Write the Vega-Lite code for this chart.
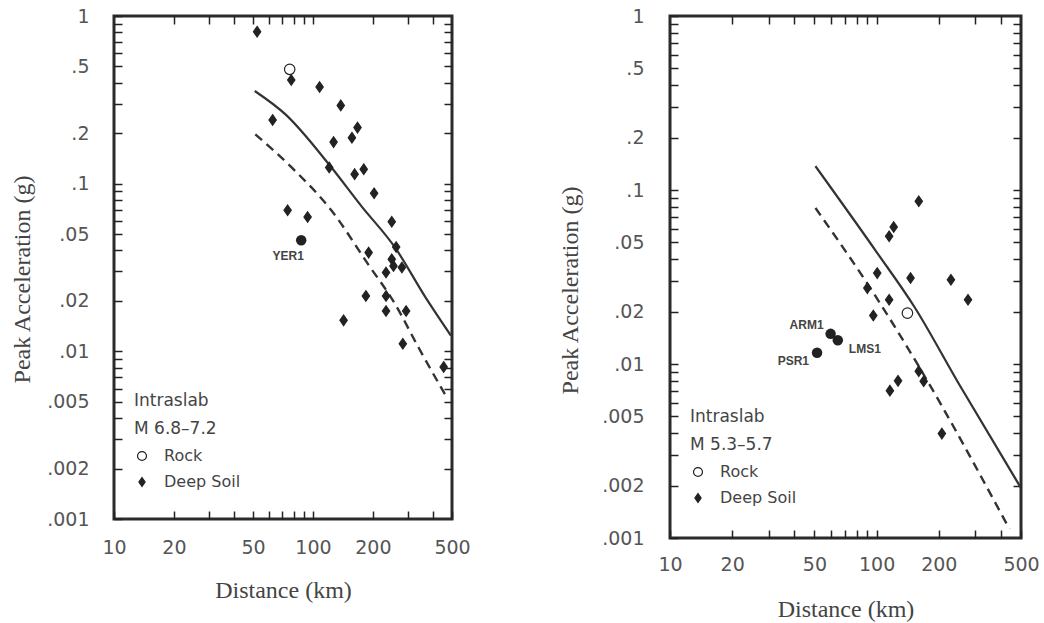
{
  "$schema": "https://vega.github.io/schema/vega-lite/v6.json",
  "background": "white",
  "padding": {"left": 8, "top": 5, "right": 0, "bottom": 0},
  "resolve": {"scale": {"shape": "independent", "fill": "independent", "stroke": "independent"}, "legend": {"shape": "independent", "fill": "independent", "stroke": "independent"}},
  "config": {
    "view": {"stroke": "#2b2b2b", "strokeWidth": 3},
    "concat": {"spacing": 84},
    "axis": {
      "domain": false, "grid": false,
      "labelFont": "DejaVu Sans", "labelFontSize": 19, "labelColor": "#555",
      "titleFont": "Liberation Serif", "titleFontSize": 24, "titleFontWeight": "normal", "titleColor": "#444",
      "tickColor": "#222", "tickWidth": 1.5
    },
    "legend": {
      "titleFont": "DejaVu Sans", "titleFontSize": 17, "titleFontWeight": "normal", "titleColor": "#444",
      "titleLineHeight": 28, "titlePadding": 10, "titleLimit": 300,
      "labelFont": "DejaVu Sans", "labelFontSize": 16, "labelColor": "#444",
      "symbolSize": 80, "symbolStrokeWidth": 1.2, "symbolOffset": 0,
      "rowPadding": 10, "labelOffset": 14, "padding": 0
    }
  },
  "datasets": {
    "left_pts": [
      {"d": 52.4, "pga": 0.806, "type": "Deep Soil"},
      {"d": 77.8, "pga": 0.415, "type": "Deep Soil"},
      {"d": 108, "pga": 0.377, "type": "Deep Soil"},
      {"d": 138, "pga": 0.293, "type": "Deep Soil"},
      {"d": 62.7, "pga": 0.24, "type": "Deep Soil"},
      {"d": 167.5, "pga": 0.216, "type": "Deep Soil"},
      {"d": 157, "pga": 0.188, "type": "Deep Soil"},
      {"d": 127, "pga": 0.177, "type": "Deep Soil"},
      {"d": 120.7, "pga": 0.125, "type": "Deep Soil"},
      {"d": 180, "pga": 0.122, "type": "Deep Soil"},
      {"d": 162, "pga": 0.114, "type": "Deep Soil"},
      {"d": 203, "pga": 0.0877, "type": "Deep Soil"},
      {"d": 74.6, "pga": 0.0694, "type": "Deep Soil"},
      {"d": 94, "pga": 0.0633, "type": "Deep Soil"},
      {"d": 249, "pga": 0.0593, "type": "Deep Soil"},
      {"d": 262, "pga": 0.0419, "type": "Deep Soil"},
      {"d": 190.5, "pga": 0.0388, "type": "Deep Soil"},
      {"d": 249, "pga": 0.0354, "type": "Deep Soil"},
      {"d": 254, "pga": 0.0323, "type": "Deep Soil"},
      {"d": 280, "pga": 0.0316, "type": "Deep Soil"},
      {"d": 233, "pga": 0.0295, "type": "Deep Soil"},
      {"d": 184.5, "pga": 0.0214, "type": "Deep Soil"},
      {"d": 233, "pga": 0.0214, "type": "Deep Soil"},
      {"d": 233, "pga": 0.0174, "type": "Deep Soil"},
      {"d": 294, "pga": 0.0174, "type": "Deep Soil"},
      {"d": 142.6, "pga": 0.0153, "type": "Deep Soil"},
      {"d": 283, "pga": 0.0111, "type": "Deep Soil"},
      {"d": 454, "pga": 0.00807, "type": "Deep Soil"},
      {"d": 76.4, "pga": 0.481, "type": "Rock"}
    ],
    "left_stations": [
      {"d": 87.3, "pga": 0.046, "label": "YER1"}
    ],
    "left_curves": [
      {"d": 51, "pga": 0.357, "curve": "solid"},
      {"d": 73, "pga": 0.258, "curve": "solid"},
      {"d": 120, "pga": 0.131, "curve": "solid"},
      {"d": 176, "pga": 0.073, "curve": "solid"},
      {"d": 259, "pga": 0.0415, "curve": "solid"},
      {"d": 366, "pga": 0.0212, "curve": "solid"},
      {"d": 494, "pga": 0.0124, "curve": "solid"},
      {"d": 51.3, "pga": 0.197, "curve": "dashed"},
      {"d": 81.5, "pga": 0.119, "curve": "dashed"},
      {"d": 124.5, "pga": 0.0687, "curve": "dashed"},
      {"d": 187, "pga": 0.0338, "curve": "dashed"},
      {"d": 259, "pga": 0.0191, "curve": "dashed"},
      {"d": 340, "pga": 0.0105, "curve": "dashed"},
      {"d": 471, "pga": 0.0053, "curve": "dashed"}
    ],
    "right_pts": [
      {"d": 160, "pga": 0.0861, "type": "Deep Soil"},
      {"d": 121, "pga": 0.0613, "type": "Deep Soil"},
      {"d": 115, "pga": 0.0542, "type": "Deep Soil"},
      {"d": 100.7, "pga": 0.0333, "type": "Deep Soil"},
      {"d": 146, "pga": 0.0312, "type": "Deep Soil"},
      {"d": 229, "pga": 0.0305, "type": "Deep Soil"},
      {"d": 277, "pga": 0.0234, "type": "Deep Soil"},
      {"d": 90.2, "pga": 0.0273, "type": "Deep Soil"},
      {"d": 115, "pga": 0.0234, "type": "Deep Soil"},
      {"d": 96.4, "pga": 0.019, "type": "Deep Soil"},
      {"d": 160, "pga": 0.0091, "type": "Deep Soil"},
      {"d": 169, "pga": 0.00796, "type": "Deep Soil"},
      {"d": 127, "pga": 0.008, "type": "Deep Soil"},
      {"d": 116, "pga": 0.00703, "type": "Deep Soil"},
      {"d": 207, "pga": 0.00398, "type": "Deep Soil"},
      {"d": 141, "pga": 0.0196, "type": "Rock"}
    ],
    "right_stations": [
      {"d": 59.9, "pga": 0.0149, "label": "ARM1"},
      {"d": 64.9, "pga": 0.0137, "label": "LMS1"},
      {"d": 51.5, "pga": 0.0116, "label": "PSR1"}
    ],
    "right_curves": [
      {"d": 50.6, "pga": 0.137, "curve": "solid"},
      {"d": 100, "pga": 0.044, "curve": "solid"},
      {"d": 152, "pga": 0.0214, "curve": "solid"},
      {"d": 250, "pga": 0.0077, "curve": "solid"},
      {"d": 497, "pga": 0.00196, "curve": "solid"},
      {"d": 50.6, "pga": 0.0788, "curve": "dashed"},
      {"d": 100, "pga": 0.024, "curve": "dashed"},
      {"d": 160, "pga": 0.0097, "curve": "dashed"},
      {"d": 439, "pga": 0.00113, "curve": "dashed"}
    ]
  },
  "hconcat": [
    {
      "width": 338,
      "height": 503,
      "resolve": {"scale": {"x": "independent", "y": "independent"}, "axis": {"x": "independent", "y": "independent"}},
      "layer": [
        {
          "data": {"name": "left_curves"},
          "transform": [{"filter": "datum.curve == 'solid'"}],
          "mark": {"type": "line", "interpolate": "monotone", "strokeWidth": 2.2, "color": "#333"},
          "encoding": {
            "x": {"field": "d", "type": "quantitative", "scale": {"type": "log", "domain": [10, 500], "nice": false},
              "axis": {"orient": "bottom", "values": [10, 20, 30, 40, 50, 60, 70, 80, 90, 100, 200, 300, 400, 500], "labelExpr": "indexof([10, 20, 50, 100, 200, 500], datum.value) >= 0 ? format(datum.value, 'd') : ''", "ticks": true, "tickSize": 8, "offset": -8, "labelPadding": 19, "labelFlush": false, "labelOverlap": false, "title": "Distance (km)", "titleY": 86, "titleBaseline": "alphabetic"}},
            "y": {"field": "pga", "type": "quantitative", "scale": {"type": "log", "domain": [0.001, 1], "nice": false},
              "axis": {"orient": "left", "values": [0.001, 0.002, 0.003, 0.004, 0.005, 0.006, 0.007, 0.008, 0.009, 0.01, 0.02, 0.03, 0.04, 0.05, 0.06, 0.07, 0.08, 0.09, 0.1, 0.2, 0.3, 0.4, 0.5, 0.6, 0.7, 0.8, 0.9, 1], "labelExpr": "indexof([0.001, 0.002, 0.005, 0.01, 0.02, 0.05, 0.1, 0.2, 0.5, 1], datum.value) >= 0 ? (datum.value >= 1 ? '1' : substring(format(datum.value, '~g'), 1)) : ''", "ticks": true, "tickSize": 8, "offset": -8, "labelPadding": 25, "labelOverlap": false, "labelFlush": false, "title": "Peak Acceleration (g)", "titleX": -100, "titleY": 263, "titleBaseline": "middle", "titleAngle": -90}}
          }
        },
        {
          "data": {"name": "left_curves"},
          "transform": [{"filter": "datum.curve == 'dashed'"}],
          "mark": {"type": "line", "interpolate": "monotone", "strokeWidth": 2.4, "strokeDash": [9, 6], "color": "#333"},
          "encoding": {
            "x": {"field": "d", "type": "quantitative", "scale": {"type": "log", "domain": [10, 500], "nice": false},
              "axis": {"orient": "top", "values": [20, 30, 40, 50, 60, 70, 80, 90, 100, 200, 300, 400], "labels": false, "title": null, "ticks": true, "tickSize": 8, "offset": -8}},
            "y": {"field": "pga", "type": "quantitative", "scale": {"type": "log", "domain": [0.001, 1], "nice": false},
              "axis": {"orient": "right", "values": [0.002, 0.003, 0.004, 0.005, 0.006, 0.007, 0.008, 0.009, 0.01, 0.02, 0.03, 0.04, 0.05, 0.06, 0.07, 0.08, 0.09, 0.1, 0.2, 0.3, 0.4, 0.5, 0.6, 0.7, 0.8, 0.9], "labels": false, "title": null, "ticks": true, "tickSize": 8, "offset": -8}}
          }
        },
        {
          "data": {"name": "left_pts"},
          "mark": {"type": "point", "filled": true, "strokeWidth": 1.2, "size": 110, "opacity": 1},
          "encoding": {
            "x": {"field": "d", "type": "quantitative", "scale": {"type": "log", "domain": [10, 500], "nice": false}, "axis": null},
            "y": {"field": "pga", "type": "quantitative", "scale": {"type": "log", "domain": [0.001, 1], "nice": false}, "axis": null},
            "shape": {"field": "type", "type": "nominal", "scale": {"domain": ["Rock", "Deep Soil"], "range": ["circle", "M0,-1L0.7,0L0,1L-0.7,0Z"]},
              "legend": {"title": ["Intraslab", "M 6.8–7.2"], "orient": "none", "legendX": 20, "legendY": 377}},
            "fill": {"field": "type", "type": "nominal", "scale": {"domain": ["Rock", "Deep Soil"], "range": ["white", "#222"]},
              "legend": {"title": ["Intraslab", "M 6.8–7.2"], "orient": "none", "legendX": 20, "legendY": 377}},
            "stroke": {"field": "type", "type": "nominal", "scale": {"domain": ["Rock", "Deep Soil"], "range": ["#222", "#222"]},
              "legend": {"title": ["Intraslab", "M 6.8–7.2"], "orient": "none", "legendX": 20, "legendY": 377}}
          }
        },
        {
          "data": {"name": "left_stations"},
          "mark": {"type": "point", "shape": "circle", "filled": true, "color": "#222", "size": 110, "opacity": 1},
          "encoding": {
            "x": {"field": "d", "type": "quantitative", "scale": {"type": "log", "domain": [10, 500], "nice": false}, "axis": null},
            "y": {"field": "pga", "type": "quantitative", "scale": {"type": "log", "domain": [0.001, 1], "nice": false}, "axis": null}
          }
        },
        {
          "data": {"name": "left_stations"},
          "mark": {"type": "text", "font": "Liberation Sans", "fontWeight": "bold", "fontSize": 12, "color": "#444", "dx": -13, "dy": 16, "align": "center", "baseline": "middle"},
          "encoding": {
            "x": {"field": "d", "type": "quantitative", "scale": {"type": "log", "domain": [10, 500], "nice": false}, "axis": null},
            "y": {"field": "pga", "type": "quantitative", "scale": {"type": "log", "domain": [0.001, 1], "nice": false}, "axis": null},
            "text": {"field": "label"}
          }
        }
      ]
    },
    {
      "width": 351,
      "height": 522,
      "resolve": {"scale": {"x": "independent", "y": "independent"}, "axis": {"x": "independent", "y": "independent"}},
      "layer": [
        {
          "data": {"name": "right_curves"},
          "transform": [{"filter": "datum.curve == 'solid'"}],
          "mark": {"type": "line", "interpolate": "monotone", "strokeWidth": 2.2, "color": "#333"},
          "encoding": {
            "x": {"field": "d", "type": "quantitative", "scale": {"type": "log", "domain": [10, 500], "nice": false},
              "axis": {"orient": "bottom", "values": [10, 20, 30, 40, 50, 60, 70, 80, 90, 100, 200, 300, 400, 500], "labelExpr": "indexof([10, 20, 50, 100, 200, 500], datum.value) >= 0 ? format(datum.value, 'd') : ''", "ticks": true, "tickSize": 8, "offset": -8, "labelPadding": 17, "labelFlush": false, "labelOverlap": false, "title": "Distance (km)", "titleY": 86, "titleBaseline": "alphabetic"}},
            "y": {"field": "pga", "type": "quantitative", "scale": {"type": "log", "domain": [0.001, 1], "nice": false},
              "axis": {"orient": "left", "values": [0.001, 0.002, 0.003, 0.004, 0.005, 0.006, 0.007, 0.008, 0.009, 0.01, 0.02, 0.03, 0.04, 0.05, 0.06, 0.07, 0.08, 0.09, 0.1, 0.2, 0.3, 0.4, 0.5, 0.6, 0.7, 0.8, 0.9, 1], "labelExpr": "indexof([0.001, 0.002, 0.005, 0.01, 0.02, 0.05, 0.1, 0.2, 0.5, 1], datum.value) >= 0 ? (datum.value >= 1 ? '1' : substring(format(datum.value, '~g'), 1)) : ''", "ticks": true, "tickSize": 8, "offset": -8, "labelPadding": 26, "labelOverlap": false, "labelFlush": false, "title": "Peak Acceleration (g)", "titleX": -108, "titleY": 274, "titleBaseline": "middle", "titleAngle": -90}}
          }
        },
        {
          "data": {"name": "right_curves"},
          "transform": [{"filter": "datum.curve == 'dashed'"}],
          "mark": {"type": "line", "interpolate": "monotone", "strokeWidth": 2.4, "strokeDash": [9, 6], "color": "#333"},
          "encoding": {
            "x": {"field": "d", "type": "quantitative", "scale": {"type": "log", "domain": [10, 500], "nice": false},
              "axis": {"orient": "top", "values": [20, 30, 40, 50, 60, 70, 80, 90, 100, 200, 300, 400], "labels": false, "title": null, "ticks": true, "tickSize": 8, "offset": -8}},
            "y": {"field": "pga", "type": "quantitative", "scale": {"type": "log", "domain": [0.001, 1], "nice": false},
              "axis": {"orient": "right", "values": [0.002, 0.003, 0.004, 0.005, 0.006, 0.007, 0.008, 0.009, 0.01, 0.02, 0.03, 0.04, 0.05, 0.06, 0.07, 0.08, 0.09, 0.1, 0.2, 0.3, 0.4, 0.5, 0.6, 0.7, 0.8, 0.9], "labels": false, "title": null, "ticks": true, "tickSize": 8, "offset": -8}}
          }
        },
        {
          "data": {"name": "right_pts"},
          "mark": {"type": "point", "filled": true, "strokeWidth": 1.2, "size": 110, "opacity": 1},
          "encoding": {
            "x": {"field": "d", "type": "quantitative", "scale": {"type": "log", "domain": [10, 500], "nice": false}, "axis": null},
            "y": {"field": "pga", "type": "quantitative", "scale": {"type": "log", "domain": [0.001, 1], "nice": false}, "axis": null},
            "shape": {"field": "type", "type": "nominal", "scale": {"domain": ["Rock", "Deep Soil"], "range": ["circle", "M0,-1L0.7,0L0,1L-0.7,0Z"]},
              "legend": {"title": ["Intraslab", "M 5.3–5.7"], "orient": "none", "legendX": 20, "legendY": 393}},
            "fill": {"field": "type", "type": "nominal", "scale": {"domain": ["Rock", "Deep Soil"], "range": ["white", "#222"]},
              "legend": {"title": ["Intraslab", "M 5.3–5.7"], "orient": "none", "legendX": 20, "legendY": 393}},
            "stroke": {"field": "type", "type": "nominal", "scale": {"domain": ["Rock", "Deep Soil"], "range": ["#222", "#222"]},
              "legend": {"title": ["Intraslab", "M 5.3–5.7"], "orient": "none", "legendX": 20, "legendY": 393}}
          }
        },
        {
          "data": {"name": "right_stations"},
          "mark": {"type": "point", "shape": "circle", "filled": true, "color": "#222", "size": 110, "opacity": 1},
          "encoding": {
            "x": {"field": "d", "type": "quantitative", "scale": {"type": "log", "domain": [10, 500], "nice": false}, "axis": null},
            "y": {"field": "pga", "type": "quantitative", "scale": {"type": "log", "domain": [0.001, 1], "nice": false}, "axis": null}
          }
        },
        {
          "data": {"name": "right_stations"},
          "transform": [{"filter": "datum.label == 'ARM1'"}],
          "mark": {"type": "text", "font": "Liberation Sans", "fontWeight": "bold", "fontSize": 12, "color": "#444", "dx": -7, "dy": -9, "align": "right", "baseline": "middle"},
          "encoding": {
            "x": {"field": "d", "type": "quantitative", "scale": {"type": "log", "domain": [10, 500], "nice": false}, "axis": null},
            "y": {"field": "pga", "type": "quantitative", "scale": {"type": "log", "domain": [0.001, 1], "nice": false}, "axis": null},
            "text": {"field": "label"}
          }
        },
        {
          "data": {"name": "right_stations"},
          "transform": [{"filter": "datum.label == 'LMS1'"}],
          "mark": {"type": "text", "font": "Liberation Sans", "fontWeight": "bold", "fontSize": 12, "color": "#444", "dx": 11, "dy": 9, "align": "left", "baseline": "middle"},
          "encoding": {
            "x": {"field": "d", "type": "quantitative", "scale": {"type": "log", "domain": [10, 500], "nice": false}, "axis": null},
            "y": {"field": "pga", "type": "quantitative", "scale": {"type": "log", "domain": [0.001, 1], "nice": false}, "axis": null},
            "text": {"field": "label"}
          }
        },
        {
          "data": {"name": "right_stations"},
          "transform": [{"filter": "datum.label == 'PSR1'"}],
          "mark": {"type": "text", "font": "Liberation Sans", "fontWeight": "bold", "fontSize": 12, "color": "#444", "dx": -8, "dy": 8, "align": "right", "baseline": "middle"},
          "encoding": {
            "x": {"field": "d", "type": "quantitative", "scale": {"type": "log", "domain": [10, 500], "nice": false}, "axis": null},
            "y": {"field": "pga", "type": "quantitative", "scale": {"type": "log", "domain": [0.001, 1], "nice": false}, "axis": null},
            "text": {"field": "label"}
          }
        }
      ]
    }
  ]
}
